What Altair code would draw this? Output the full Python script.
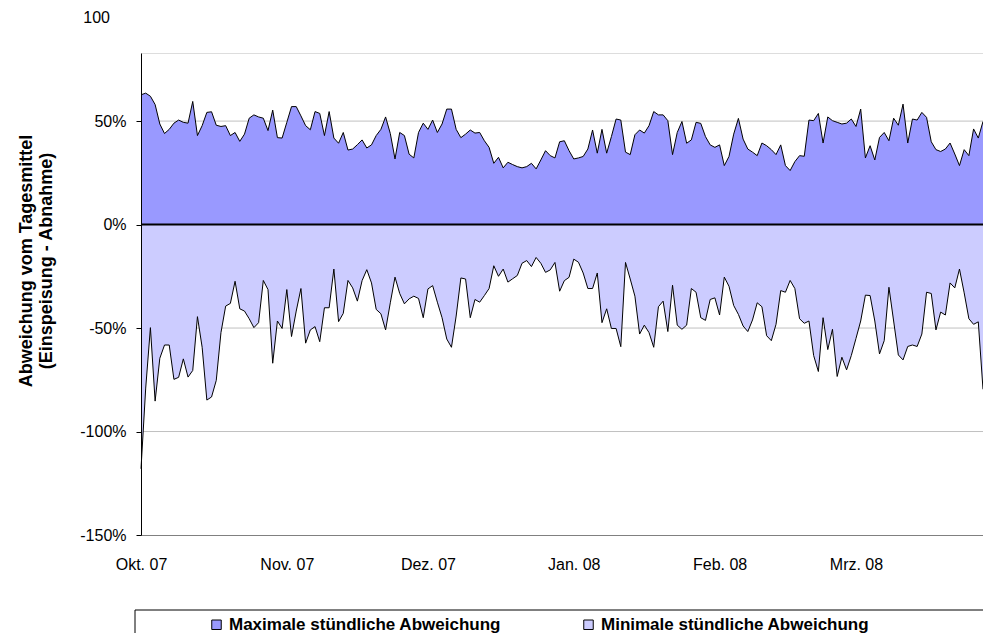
import altair as alt
import pandas as pd

# ---- data (daily values from 1 Oct 2007) ----
max_values = [
    62.7, 63.5, 62, 58, 48.6, 44, 46, 49, 50.5, 49.4, 49, 59.5, 43, 47.8, 54.2, 54.5,
    48, 47.4, 47.8, 43, 44.5, 40.2, 43.7, 51.4, 53, 52, 51.4, 45.4, 55.3, 42, 41.8,
    49.4, 57, 57, 52.5, 47.8, 45.8, 54.6, 53.7, 43, 54.6, 41.8, 39.3, 44.5, 36, 36.5,
    38.6, 40.9, 37, 38.5, 43, 46, 52, 44, 31.7, 44.5, 43, 34, 32.2, 44.5, 49, 46,
    50.5, 44.5, 48.6, 55.8, 55.8, 46, 42, 43.7, 45.7, 44.2, 44.5, 40.5, 37.3, 29.6,
    32.5, 27.4, 30.1, 29, 28, 27.4, 28, 29.6, 26.9, 31.2, 35.7, 33.3, 32.2, 40, 40.5,
    35.7, 31.7, 32.2, 32.9, 36.5, 45.7, 34.5, 46, 34.5, 42.5, 51, 50.5, 35, 33.8, 43.4,
    45.7, 44.2, 47.8, 54.6, 53, 53, 50.2, 33.8, 44.5, 49.8, 39.3, 40.9, 49.4, 48.9,
    42.5, 38.5, 37.3,
    38.5, 28.5, 32.9, 43.7, 51.3, 41.3, 36.5, 35, 33.3, 39.4, 38.1, 36.2, 33.8, 38.5,
    28.5, 26.1, 30.4, 33.3, 33, 50.5, 50.2, 53.7, 39.4, 52, 50.2, 49.4, 48.6, 49, 51,
    47.4, 55.8, 32.2, 38.1, 31.2, 42.1, 44.5, 40.5, 51.4, 48, 58.2, 39.4, 51, 50.5,
    54.2, 51.8, 40, 36.2, 35.3, 36.5, 39.4, 34.1, 28.5, 36.2, 33.3, 46.2, 41.8, 49.8,
]
min_values = [
    -118, -79, -49.8, -85.3, -64.6, -58.2, -58.2, -74.8, -73.8, -64.9, -73.7, -70.5,
    -44.5, -59.3, -84.8, -83.3, -75.3, -52.2, -39.4, -38.1, -27.4, -40.7, -41.8, -45.5,
    -49.8, -47.4, -27, -31.4, -67, -46.6, -50.2, -31.4, -54.1, -41.8, -30.9, -57.3,
    -50.9, -49.3, -56.6, -40.2, -40.2, -21.5, -46.9, -42.9, -27, -30.6, -37, -27.1,
    -21.8, -28.2, -41, -43.1, -50.9, -37.8, -25.4, -33.3, -38.3, -35.9, -34.6, -35.7,
    -45, -31.1,
    -29.5, -37.5, -45, -55.3, -59.3, -44.2, -25.8, -26.3, -45, -36.2, -37.5, -34.3,
    -30.9, -19.9, -25, -21.5, -27.8, -26.2, -24.6, -18.7, -17.4, -20.3, -15.9, -18.7,
    -23.1, -21.9, -18.3, -32.2, -27.1, -25.5, -16.7, -18.2, -23.4, -30.9, -30.9, -23.4,
    -47.4, -40.7, -50.2, -50.2, -59, -18.3, -26.3, -34.6, -52.9, -48.6, -52.2, -59.3,
    -39.7, -37, -51.7, -29.3, -48.6, -50.6, -48.6, -30.9, -32.7, -45, -46.3, -36.2, -35.4,
    -43.7, -25.4, -29.8, -39.1, -43.4, -49, -51.7, -46.1, -37.8, -39.7, -53.7, -56.1,
    -48.2, -31.9, -32.7, -27, -30.9, -45.5, -47.7, -46.6, -63.3, -71, -45, -60.4, -50.6,
    -73.4, -64.1, -70.2, -63.3, -55, -46.6, -34.1, -34.3, -46.6, -62.5, -56.1, -30.3,
    -46.6, -63, -65.4, -58.9, -58.2, -58.9, -52.9, -32.7, -33.3, -50.9, -42.3, -43.7,
    -28.2, -30.6, -21.5, -33, -45.5, -48.2, -47, -79.6,
]

month_offsets = [0, 31, 61, 92, 123, 152]          # days after 1 Oct 2007
month_labels = ["Okt. 07", "Nov. 07", "Dez. 07", "Jan. 08", "Feb. 08", "Mrz. 08"]
y_ticks = [-150, -100, -50, 0, 50]
grid_values = [-100, -50, 50]
top_label = ["100"]
series_names = ["Maximale stündliche Abweichung", "Minimale stündliche Abweichung"]
series_colors = ["#9999FF", "#CCCCFF"]
y_title_lines = ["Abweichung vom Tagesmittel", "(Einspeisung - Abnahme)"]

FONT = "Liberation Sans"
n = min(len(max_values), len(min_values))
max_values = max_values[:n]
min_values = min_values[:n]

df = pd.DataFrame({
    "day": list(range(n)) * 2,
    "value": max_values + min_values,
    "series": [series_names[0]] * n + [series_names[1]] * n,
})

label_expr = ("[" + ",".join("'%s'" % l for l in month_labels) + "][indexof(["
              + ",".join(str(v) for v in month_offsets) + "], datum.value)]")

x_scale = alt.Scale(domain=[0, n - 1], nice=False, zero=False)
y_scale = alt.Scale(domain=[-150, 82.9], nice=False, zero=False)

x_axis = alt.Axis(values=month_offsets, labelExpr=label_expr, title=None, grid=False,
                  ticks=False, domainColor="#808080", labelPadding=21, labelFontSize=16,
                  labelFont=FONT, labelColor="black", labelFlush=False, labelOverlap=False,
                  labelBaseline="top", zindex=1)
y_axis = alt.Axis(values=y_ticks, labelExpr="datum.value + '%'", title=None, grid=False,
                  tickSize=5, tickColor="black", domainColor="black", labelPadding=10,
                  labelFontSize=16, labelFont=FONT, labelColor="black", labelFlush=False,
                  labelOverlap=False, zindex=1)

grid = alt.Chart(pd.DataFrame({"value": grid_values})).mark_rule(
    color="#c0c0c0", strokeWidth=1).encode(y=alt.Y("value:Q", scale=y_scale, axis=y_axis))

area = alt.Chart(df).mark_area(opacity=1).encode(
    x=alt.X("day:Q", scale=x_scale, axis=x_axis),
    y=alt.Y("value:Q", stack=None),
    y2=alt.datum(0),
    color=alt.Color(
        "series:N",
        scale=alt.Scale(domain=series_names, range=series_colors),
        sort=series_names,
        legend=alt.Legend(
            orient="none", legendX=67, legendY=563, direction="horizontal", title=None,
            symbolType="square", symbolSize=90, symbolStrokeColor="black",
            symbolStrokeWidth=1, symbolOpacity=1, labelFontSize=17, labelFontWeight="bold",
            labelFont=FONT, labelColor="black", labelOffset=4, columnPadding=78,
            labelLimit=500, padding=0,
        ),
    ),
)

line = alt.Chart(df).mark_line(color="black", strokeWidth=1).encode(
    x="day:Q", y="value:Q", detail="series:N")

zero = alt.Chart(pd.DataFrame({"value": [0]})).mark_rule(
    color="black", strokeWidth=2).encode(y="value:Q")

top_text = alt.Chart(pd.DataFrame({"value": [100], "t": top_label})).mark_text(
    align="right", baseline="middle", fontSize=16, font=FONT, color="black").encode(
    y="value:Q", x=alt.value(-31), text="t:N")

title1 = alt.Chart(pd.DataFrame({"t": [y_title_lines[0]]})).mark_text(
    angle=270, align="center", baseline="middle", fontSize=18, fontWeight="bold",
    font=FONT, color="black").encode(text="t:N", x=alt.value(-114), y=alt.value(208))
title2 = alt.Chart(pd.DataFrame({"t": [y_title_lines[1]]})).mark_text(
    angle=270, align="center", baseline="middle", fontSize=18, fontWeight="bold",
    font=FONT, color="black").encode(text="t:N", x=alt.value(-94), y=alt.value(208))

box_top = alt.Chart(pd.DataFrame({"a": [0]})).mark_rule(color="black", strokeWidth=1).encode(
    x=alt.value(-6), x2=alt.value(850), y=alt.value(557))
box_left = alt.Chart(pd.DataFrame({"a": [0]})).mark_rule(color="black", strokeWidth=1).encode(
    x=alt.value(-6), y=alt.value(557), y2=alt.value(600))

chart = alt.layer(grid, area, line, zero, top_text, title1, title2, box_top, box_left).properties(
    width=842, height=482,
    autosize=alt.AutoSizeParams(type="none"),
    padding={"left": 133, "top": 45, "right": 0, "bottom": 100},
).configure_view(stroke=None).configure(background="white")

chart.save("out.html", embed_options={"renderer": "svg", "actions": False})
